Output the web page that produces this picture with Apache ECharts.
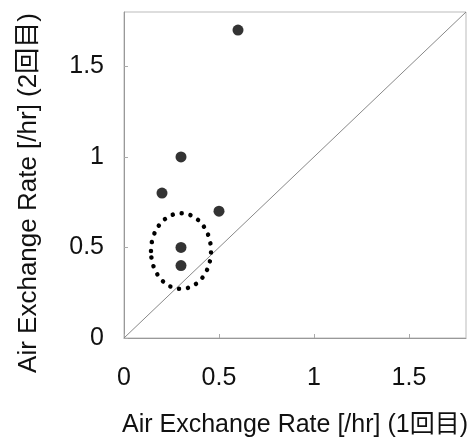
<!DOCTYPE html>
<html>
<head>
<meta charset="utf-8">
<style>
  html, body { margin: 0; padding: 0; background: #fff; }
  #chart { width: 473px; height: 438px; }
</style>
<script src="https://cdn.jsdelivr.net/npm/echarts@6/dist/echarts.min.js"></script>
</head>
<body>
<div id="chart"></div>
<script>
// Air exchange rate: first measurement (x) vs second measurement (y)
const firstRun  = [0.6, 0.3, 0.2, 0.5, 0.3, 0.3];
const secondRun = [1.7, 1.0, 0.8, 0.7, 0.5, 0.4];

// y = x reference line endpoints
const equalityLine = [[0, 0], [1.8, 1.8]];

// highlighted group: centre x, centre y, radius x, radius y (data units)
const highlight = [[0.3, 0.48, 0.158, 0.209]];

const tickValues = [0, 0.5, 1, 1.5];
const axisMax = 1.8;

const font = '"Liberation Sans", Arial, "Noto Sans CJK JP", sans-serif';

const points = firstRun.map((x, i) => [x, secondRun[i]]);

function axisCommon(name) {
  return {
    type: 'value',
    min: 0,
    max: axisMax,
    interval: 0.5,
    name: name,
    nameLocation: 'middle',
    nameTextStyle: { fontFamily: font, fontSize: 25, color: '#111' },
    axisLine: { show: true, lineStyle: { color: '#999', width: 1 } },
    axisTick: { show: true, inside: true, length: 4, lineStyle: { color: '#aaa' } },
    splitLine: { show: false },
    axisLabel: {
      fontFamily: font,
      fontSize: 25,
      color: '#111',
      showMaxLabel: false,
      formatter: v => (tickValues.indexOf(v) >= 0 ? String(v) : '')
    }
  };
}

const xAxis = axisCommon('Air Exchange Rate [/hr] (1回目)');
xAxis.nameGap = 75;
xAxis.axisLabel.margin = 28;

const yAxis = axisCommon('Air Exchange Rate [/hr] (2回目)');
yAxis.nameGap = 82;
yAxis.axisLabel.margin = 20;
yAxis.nameTextStyle = { fontFamily: font, fontSize: 26, color: '#111', padding: [0, 36, 0, 0] };

const chart = echarts.init(document.getElementById('chart'), null, { renderer: 'canvas' });
chart.setOption({
  backgroundColor: '#fff',
  animation: false,
  grid: {
    left: 124, right: 7, top: 12, bottom: 100,
    containLabel: false,
    outerBoundsMode: 'none',
    show: true, borderColor: '#bbb', borderWidth: 1, backgroundColor: 'transparent'
  },
  xAxis: xAxis,
  yAxis: yAxis,
  series: [
    {
      type: 'line',
      data: equalityLine,
      symbol: 'none',
      lineStyle: { color: '#888', width: 1 },
      silent: true,
      z: 1
    },
    {
      type: 'scatter',
      data: points,
      symbol: 'circle',
      symbolSize: 11,
      itemStyle: { color: '#000' },
      z: 3
    },
    {
      type: 'custom',
      data: highlight,
      silent: true,
      z: 2,
      renderItem: function (params, api) {
        const c = api.coord([api.value(0), api.value(1)]);
        const s = api.size([api.value(2), api.value(3)]);
        return {
          type: 'ellipse',
          shape: { cx: c[0], cy: c[1], rx: s[0], ry: s[1] },
          style: {
            fill: null,
            stroke: '#000',
            lineWidth: 4.5,
            lineCap: 'round',
            lineDash: [0.01, 9]
          }
        };
      }
    }
  ]
});
</script>
</body>
</html>
